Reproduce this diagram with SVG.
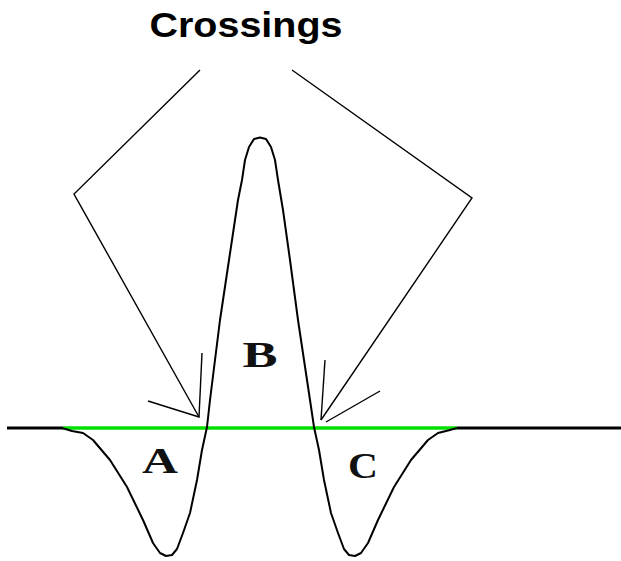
<svg xmlns="http://www.w3.org/2000/svg" width="621" height="561" viewBox="0 0 621 561">
<style>
.ptr{fill:none;stroke:#000;stroke-width:1.4;stroke-linejoin:miter}
.lbl{font-family:"Liberation Serif",serif;font-weight:bold;font-size:36px;fill:#111;text-anchor:middle}
</style>
<rect width="621" height="561" fill="#fff"/>
<g id="baseline">
<line x1="7" y1="428" x2="63" y2="428" stroke="#000" stroke-width="3"/>
<line x1="63" y1="428" x2="457" y2="428" stroke="#00e000" stroke-width="3.5"/>
<line x1="457" y1="428" x2="621" y2="428" stroke="#000" stroke-width="3"/>
</g>
<g id="curve">
<path d="M62,428 L72,431 L83,433 L93,440 L110,460 L127,487 L143,520 L153,543 L160,553 L166,556 L172,555 L177,549 L183,533 L190,513 L197,480 L202,450 L207,427 L210,400 L215,360 L220,320 L226,280 L232,240 L238,200 L242,180 L245,160 L249,147 L254,139 L260,137.5 L266,139 L271,147 L275,160 L278,180 L283,210 L290,260 L298,320 L304,360 L310,400 L314,427 L319,450 L324,480 L331,513 L338,533 L344,549 L349,555 L355,556 L361,553 L368,543 L378,520 L394,487 L411,460 L428,440 L438,433 L450,430 L457,428" fill="none" stroke="#000" stroke-width="2" stroke-linejoin="round"/>
</g>
<g id="title">
<text x="246" y="37" font-family="Liberation Sans, Arial, sans-serif" font-weight="bold" font-size="35" text-anchor="middle" textLength="193" lengthAdjust="spacingAndGlyphs">Crossings</text>
</g>
<g id="label-A"><text class="lbl" x="160" y="473" textLength="36" lengthAdjust="spacingAndGlyphs">A</text></g>
<g id="label-B"><text class="lbl" x="260" y="367" textLength="35" lengthAdjust="spacingAndGlyphs">B</text></g>
<g id="label-C"><text class="lbl" x="363" y="478" textLength="30" lengthAdjust="spacingAndGlyphs">C</text></g>
<g id="connectors">
<polyline class="ptr" points="200,70 74,194 199,417"/>
<polyline class="ptr" points="148,401 199,417 202,353"/>
<polyline class="ptr" points="292,70 472,198 321,420"/>
<polyline class="ptr" points="325,360 321,420"/>
<line class="ptr" x1="326" y1="422" x2="380" y2="391"/>
</g>
</svg>
